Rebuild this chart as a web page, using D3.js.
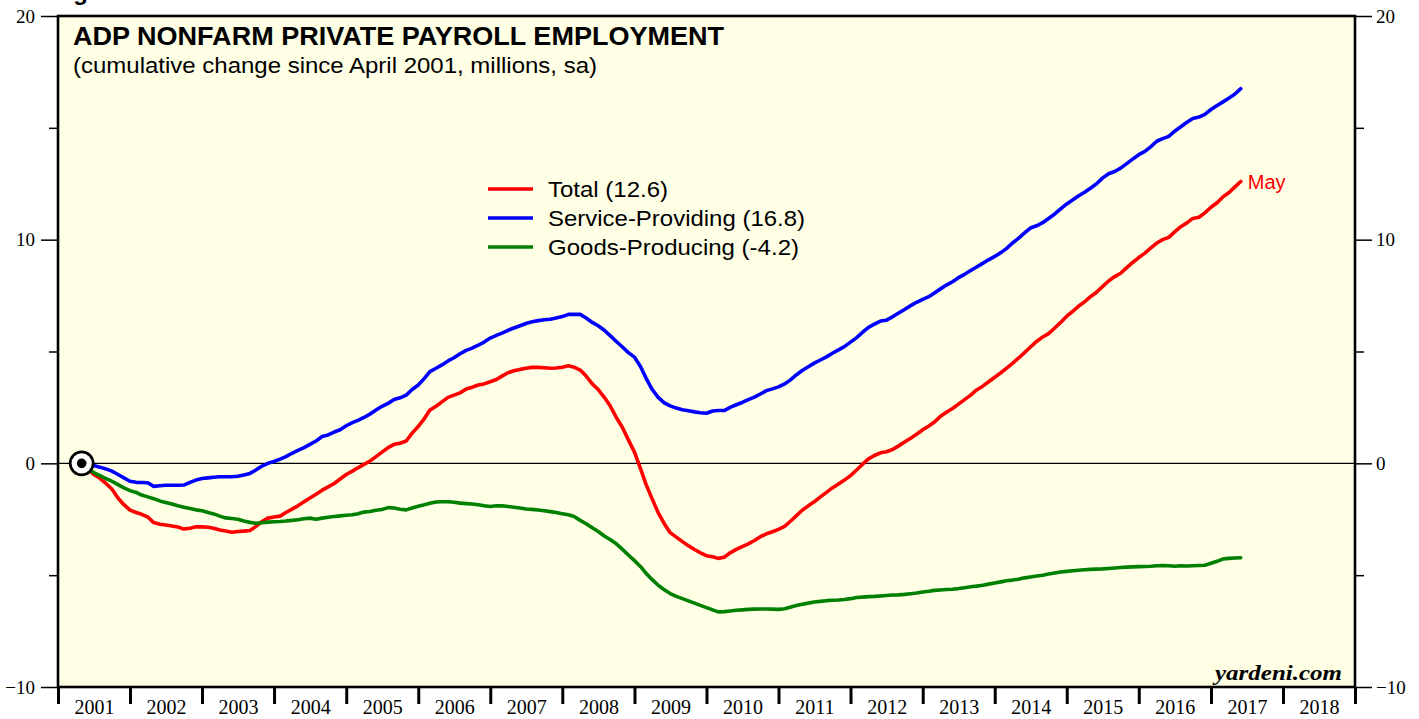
<!DOCTYPE html>
<html>
<head>
<meta charset="utf-8">
<script src="https://cdn.jsdelivr.net/npm/d3@7"></script>
<style>
  html, body { margin: 0; padding: 0; background: #ffffff; }
  svg { display: block; }
</style>
</head>
<body>
<svg id="chart" width="1419" height="719"></svg>
<script>
// ---------------- DATA ----------------
const startYear = 2001;      // first observation: April 2001
const startMonth = 4;
const yearLabels = ["2001","2002","2003","2004","2005","2006","2007","2008","2009","2010","2011","2012","2013","2014","2015","2016","2017","2018"];
const yTicksMajor = [-10, 0, 10, 20];
const yTicksMinor = [-5, 5, 15];

const seriesNames = ["Total (12.6)", "Service-Providing (16.8)", "Goods-Producing (-4.2)"];
const seriesColors = ["#ff0000", "#0000ff", "#008000"];

// cumulative change since April 2001, millions (monthly, Apr 2001 - May 2017)
const total = [
  0, -0.25, -0.5, -0.67, -0.9, -1.15, -1.55, -1.85, -2.09,
  -2.2, -2.28, -2.4, -2.65, -2.72, -2.76, -2.8, -2.85, -2.94, -2.9, -2.84, -2.84,
  -2.86, -2.9, -2.98, -3.03, -3.08, -3.05, -3.03, -3.0, -2.82, -2.6, -2.45, -2.4,
  -2.36, -2.2, -2.05, -1.9, -1.72, -1.55, -1.38, -1.2, -1.05, -0.9, -0.7, -0.5,
  -0.35, -0.2, -0.05, 0.1, 0.3, 0.5, 0.7, 0.85, 0.9, 1.0, 1.35, 1.65,
  2.0, 2.38, 2.55, 2.75, 2.95, 3.05, 3.15, 3.32, 3.4, 3.5, 3.55, 3.65,
  3.75, 3.9, 4.05, 4.14, 4.2, 4.25, 4.29, 4.29, 4.27, 4.25, 4.26, 4.3,
  4.36, 4.3, 4.17, 3.9, 3.55, 3.3, 2.95, 2.55, 2.05, 1.6, 1.05, 0.5,
  -0.25, -0.95, -1.6, -2.2, -2.7, -3.1, -3.3, -3.5, -3.68, -3.85, -4.0, -4.13,
  -4.18, -4.25, -4.2, -4.0, -3.85, -3.72, -3.6, -3.45, -3.28, -3.15, -3.06, -2.95,
  -2.82, -2.6, -2.35, -2.1, -1.9, -1.72, -1.5, -1.3, -1.1, -0.92, -0.75, -0.55,
  -0.3, -0.05, 0.2, 0.35, 0.47, 0.52, 0.62, 0.78, 0.95, 1.12, 1.3, 1.5,
  1.67, 1.85, 2.1, 2.28, 2.45, 2.65, 2.85, 3.05, 3.28, 3.45, 3.65, 3.85,
  4.05, 4.25, 4.47, 4.7, 4.95, 5.2, 5.45, 5.65, 5.8, 6.05, 6.3, 6.58,
  6.8, 7.02, 7.22, 7.45, 7.65, 7.9, 8.15, 8.35, 8.5, 8.75, 8.98, 9.2,
  9.4, 9.62, 9.85, 10.0, 10.1, 10.35, 10.58, 10.75, 10.95, 11.0, 11.2, 11.45,
  11.65, 11.9, 12.1, 12.35, 12.6
];
const service = [
  0, -0.05, -0.1, -0.17, -0.25, -0.35, -0.5, -0.65, -0.8,
  -0.85, -0.86, -0.87, -1.03, -1.0, -0.98, -0.98, -0.98, -0.97, -0.85, -0.75, -0.68,
  -0.65, -0.62, -0.6, -0.6, -0.6, -0.58, -0.52, -0.45, -0.3, -0.12, 0.0, 0.08,
  0.19, 0.3, 0.45, 0.58, 0.7, 0.85, 1.0, 1.2, 1.27, 1.4, 1.5, 1.68,
  1.82, 1.92, 2.05, 2.2, 2.38, 2.55, 2.68, 2.85, 2.93, 3.05, 3.3, 3.5,
  3.8, 4.1, 4.25, 4.4, 4.58, 4.72, 4.9, 5.05, 5.15, 5.28, 5.42, 5.6,
  5.72, 5.82, 5.95, 6.05, 6.15, 6.25, 6.33, 6.38, 6.42, 6.44, 6.5, 6.56,
  6.66, 6.66, 6.66, 6.5, 6.3, 6.15, 5.95, 5.7, 5.45, 5.2, 4.95, 4.75,
  4.32, 3.8, 3.3, 2.95, 2.7, 2.57, 2.47, 2.4, 2.35, 2.3, 2.26, 2.24,
  2.34, 2.36, 2.36, 2.5, 2.62, 2.72, 2.85, 2.96, 3.1, 3.25, 3.33, 3.42,
  3.55, 3.72, 3.95, 4.15, 4.32, 4.48, 4.62, 4.76, 4.92, 5.07, 5.22, 5.42,
  5.62, 5.85, 6.08, 6.22, 6.36, 6.4, 6.55, 6.72, 6.88, 7.05, 7.2, 7.33,
  7.45, 7.62, 7.8, 7.97, 8.12, 8.3, 8.45, 8.62, 8.78, 8.94, 9.1, 9.25,
  9.42, 9.6, 9.85, 10.06, 10.3, 10.52, 10.62, 10.76, 10.95, 11.15, 11.38, 11.6,
  11.78, 11.95, 12.12, 12.3, 12.5, 12.75, 12.95, 13.05, 13.2, 13.4, 13.6, 13.8,
  13.95, 14.15, 14.4, 14.52, 14.62, 14.85, 15.05, 15.25, 15.42, 15.48, 15.6, 15.82,
  16.0, 16.15, 16.32, 16.5, 16.75
];
const goods = [
  0, -0.2, -0.42, -0.55, -0.68, -0.8, -0.95, -1.1, -1.22,
  -1.3, -1.42, -1.5, -1.58, -1.68, -1.75, -1.82, -1.9, -1.96, -2.02, -2.08, -2.12,
  -2.2, -2.26, -2.36, -2.44, -2.47, -2.5, -2.58, -2.64, -2.68, -2.66, -2.63, -2.61,
  -2.6, -2.58, -2.55, -2.52, -2.48, -2.45, -2.5, -2.45, -2.41, -2.38, -2.35, -2.32,
  -2.3, -2.25, -2.18, -2.15, -2.1, -2.06, -1.98, -2.0, -2.05, -2.08, -2.0, -1.92,
  -1.85, -1.78, -1.73, -1.72, -1.72, -1.74, -1.78, -1.8, -1.82, -1.85, -1.9, -1.93,
  -1.9, -1.9, -1.93, -1.96, -2.0, -2.04, -2.06, -2.09, -2.12, -2.16, -2.2, -2.25,
  -2.3, -2.38, -2.55, -2.7, -2.88, -3.05, -3.25, -3.42, -3.6, -3.85, -4.1, -4.35,
  -4.62, -4.92, -5.2, -5.45, -5.65, -5.82, -5.95, -6.05, -6.15, -6.25, -6.35, -6.45,
  -6.55, -6.64, -6.63, -6.6, -6.57, -6.55, -6.53, -6.52, -6.51, -6.51, -6.52, -6.53,
  -6.5, -6.43, -6.36, -6.3, -6.25, -6.2, -6.17, -6.14, -6.12, -6.11, -6.09, -6.05,
  -6.0, -5.98, -5.96, -5.95, -5.93, -5.91, -5.89, -5.88, -5.86, -5.83, -5.8, -5.75,
  -5.72, -5.68, -5.66, -5.64, -5.63, -5.6, -5.56, -5.52, -5.49, -5.45, -5.4, -5.35,
  -5.3, -5.25, -5.22, -5.18, -5.12, -5.08, -5.04, -5.0, -4.95, -4.9, -4.86, -4.83,
  -4.8, -4.78, -4.76, -4.74, -4.73, -4.72, -4.7, -4.68, -4.66, -4.64, -4.63, -4.62,
  -4.61, -4.6, -4.58, -4.57, -4.58, -4.6, -4.58, -4.59, -4.58, -4.57, -4.56, -4.47,
  -4.38, -4.28, -4.25, -4.23, -4.22
];
const lastLabel = "May";

// ---------------- LAYOUT ----------------
const L = 58, R = 1355, T = 16, B = 687;
const svg = d3.select("#chart");

// observation dates: plotted at end of each month
const dateOf = i => new Date(startYear, startMonth - 1 + i + 1, 1);

const x = d3.scaleTime()
  .domain([new Date(2001, 0, 1), new Date(2019, 0, 1)])
  .range([L, R]);
const y = d3.scaleLinear().domain([-10, 20]).range([B, T]);

// Figure caption (cut off at top, as in the original)
svg.append("text").attr("x", 52).attr("y", 0)
  .attr("font-family", "Liberation Sans, Arial, sans-serif")
  .attr("font-weight", "bold").attr("font-size", 24).attr("fill", "#000")
  .text("Figure 3.");

// plot background
svg.append("rect").attr("x", L).attr("y", T).attr("width", R - L).attr("height", B - T)
  .attr("fill", "#ffffe5");

// zero line
svg.append("line").attr("x1", L).attr("x2", R).attr("y1", y(0)).attr("y2", y(0))
  .attr("stroke", "#000").attr("stroke-width", 1.2);

// Y axes
function styleAxis(g) {
  g.select(".domain").remove();
  g.selectAll(".tick line").attr("stroke", "#000").attr("stroke-width", 1.5);
  g.selectAll(".tick text")
    .attr("font-family", "Liberation Serif, 'Times New Roman', serif")
    .attr("font-size", 19).attr("fill", "#000");
}
svg.append("g").attr("transform", `translate(${L},0)`)
  .call(d3.axisLeft(y).tickValues(yTicksMajor).tickSize(17).tickPadding(6).tickFormat(d3.format("d")))
  .call(styleAxis);
svg.append("g").attr("transform", `translate(${L},0)`)
  .call(d3.axisLeft(y).tickValues(yTicksMinor).tickSize(9).tickFormat(""))
  .call(styleAxis);
svg.append("g").attr("transform", `translate(${R},0)`)
  .call(d3.axisRight(y).tickValues(yTicksMajor).tickSize(17).tickPadding(4).tickFormat(d3.format("d")))
  .call(styleAxis);
svg.append("g").attr("transform", `translate(${R},0)`)
  .call(d3.axisRight(y).tickValues(yTicksMinor).tickSize(9).tickFormat(""))
  .call(styleAxis);

// X axis: year boundary ticks and centered year labels
const yearStarts = d3.range(2001, 2020).map(yr => new Date(yr, 0, 1));
svg.append("g").attr("transform", `translate(0,${B})`)
  .call(d3.axisBottom(x).tickValues(yearStarts).tickSize(17).tickFormat(""))
  .call(g => {
    g.select(".domain").remove();
    g.selectAll(".tick line").attr("stroke", "#000").attr("stroke-width", 3);
  });
const yearMids = yearLabels.map(s => new Date(+s, 6, 2));
svg.append("g").attr("transform", `translate(0,${B})`)
  .call(d3.axisBottom(x).tickValues(yearMids).tickSize(0).tickPadding(13)
    .tickFormat((d, i) => yearLabels[i]))
  .call(g => {
    g.select(".domain").remove();
    g.selectAll(".tick text")
      .attr("font-family", "Liberation Serif, 'Times New Roman', serif")
      .attr("font-size", 20).attr("fill", "#000");
  });

// series lines
const seriesData = [total, service, goods];
const line = d3.line()
  .x((d, i) => x(dateOf(i)))
  .y(d => y(d));
seriesData.forEach((s, k) => {
  svg.append("path").datum(s)
    .attr("fill", "none")
    .attr("stroke", seriesColors[k])
    .attr("stroke-width", 3.6)
    .attr("stroke-linejoin", "round")
    .attr("stroke-linecap", "round")
    .attr("d", line);
});

// start marker
svg.append("circle").attr("cx", x(dateOf(0))).attr("cy", y(0)).attr("r", 11.5)
  .attr("fill", "#ffffff").attr("stroke", "#000").attr("stroke-width", 2.7);
svg.append("circle").attr("cx", x(dateOf(0))).attr("cy", y(0)).attr("r", 4.8)
  .attr("fill", "#000");

// "May" label at end of total
svg.append("text")
  .attr("x", x(dateOf(total.length - 1)) + 7)
  .attr("y", y(total[total.length - 1]) + 7)
  .attr("font-family", "Liberation Sans, Arial, sans-serif")
  .attr("font-size", 20).attr("fill", "#ff0000")
  .text(lastLabel);

// frame
svg.append("rect").attr("x", L).attr("y", T).attr("width", R - L).attr("height", B - T)
  .attr("fill", "none").attr("stroke", "#000").attr("stroke-width", 2.6);

// titles
svg.append("text").attr("x", 73).attr("y", 45)
  .attr("font-family", "Liberation Sans, Arial, sans-serif")
  .attr("font-weight", "bold").attr("font-size", 25).attr("fill", "#000")
  .attr("textLength", 651).attr("lengthAdjust", "spacingAndGlyphs")
  .text("ADP NONFARM PRIVATE PAYROLL EMPLOYMENT");
svg.append("text").attr("x", 73).attr("y", 73)
  .attr("font-family", "Liberation Sans, Arial, sans-serif")
  .attr("font-size", 22).attr("fill", "#000")
  .attr("textLength", 524).attr("lengthAdjust", "spacingAndGlyphs")
  .text("(cumulative change since April 2001, millions, sa)");

// legend
const legendY = [189, 218, 247];
const legendW = [120, 257, 251];
seriesNames.forEach((name, k) => {
  svg.append("line").attr("x1", 488).attr("x2", 533)
    .attr("y1", legendY[k]).attr("y2", legendY[k])
    .attr("stroke", seriesColors[k]).attr("stroke-width", 3.6);
  svg.append("text").attr("x", 548).attr("y", legendY[k] + 8)
    .attr("font-family", "Liberation Sans, Arial, sans-serif")
    .attr("font-size", 22).attr("fill", "#000")
    .attr("textLength", legendW[k]).attr("lengthAdjust", "spacingAndGlyphs")
    .text(name);
});

// source
svg.append("text").attr("x", 1342).attr("y", 680).attr("text-anchor", "end")
  .attr("font-family", "Liberation Serif, 'Times New Roman', serif")
  .attr("font-weight", "bold").attr("font-style", "italic")
  .attr("font-size", 20).attr("fill", "#000")
  .attr("textLength", 127).attr("lengthAdjust", "spacingAndGlyphs")
  .text("yardeni.com");
</script>
</body>
</html>
